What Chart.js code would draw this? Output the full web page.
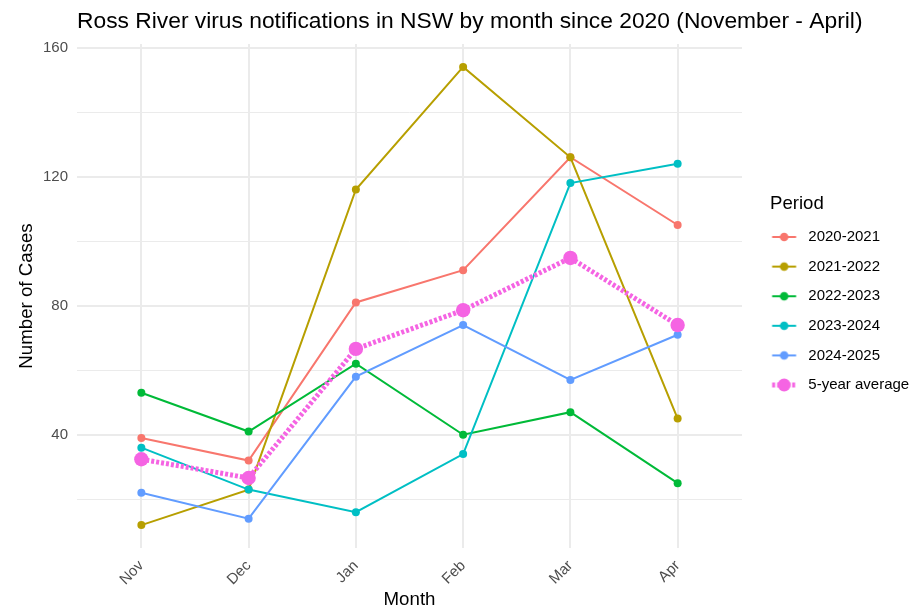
<!DOCTYPE html>
<html>
<head>
<meta charset="utf-8">
<script src="https://cdn.jsdelivr.net/npm/chart.js@4"></script>
<style>
  html, body { margin: 0; background: #fff; }
</style>
</head>
<body>
<canvas id="chart" width="914" height="611"></canvas>
<script>
// ===== data =====
const TITLE = 'Ross River virus notifications in NSW by month since 2020 (November - April)';
const LEGEND_TITLE = 'Period';
const MONTHS = ['Nov', 'Dec', 'Jan', 'Feb', 'Mar', 'Apr'];
const PERIODS = ['2020-2021', '2021-2022', '2022-2023', '2023-2024', '2024-2025'];
const CASES_2020_21 = [39, 32, 81, 91, 126, 105];
const CASES_2021_22 = [12, 23, 116, 154, 126, 45];
const CASES_2022_23 = [53, 41, 62, 40, 47, 25];
const CASES_2023_24 = [36, 23, 16, 34, 118, 124];
const CASES_2024_25 = [22, 14, 58, 74, 57, 71];
const AVG_LABEL = '5-year average';
const AVG_5YR = [32.4, 26.6, 66.6, 78.6, 94.8, 74];
const Y_TICKS = [40, 80, 120, 160];
const Y_MINOR = [20, 60, 100, 140];

const SERIES = [CASES_2020_21, CASES_2021_22, CASES_2022_23, CASES_2023_24, CASES_2024_25];
const COLORS = ['#F8766D', '#B79F00', '#00BA38', '#00BFC4', '#619CFF'];
const AVG_COLOR = '#F564E3';

const FONT = '"Liberation Sans", Arial, sans-serif';
Chart.defaults.font.family = FONT;

const toPoints = vals => vals.map((v, i) => ({ x: i, y: v }));

// little legend key: line with a dot in the middle
function legendKey(color, isAvg) {
  const c = document.createElement('canvas');
  c.width = 44; c.height = 18;
  const g = c.getContext('2d');
  g.strokeStyle = color;
  g.lineWidth = isAvg ? 5 : 2;
  if (isAvg) g.setLineDash([3, 2]);
  g.beginPath(); g.moveTo(15.4, 9); g.lineTo(39.4, 9); g.stroke();
  g.setLineDash([]);
  g.fillStyle = color;
  g.beginPath(); g.arc(27.4, 9, isAvg ? 6.5 : 4.3, 0, Math.PI * 2); g.fill();
  return c;
}

const datasets = SERIES.map((vals, i) => ({
  label: PERIODS[i],
  data: toPoints(vals),
  borderColor: COLORS[i],
  backgroundColor: COLORS[i],
  borderWidth: 2,
  pointRadius: 4,
  pointBorderWidth: 0,
  order: 10 - i,
  key: legendKey(COLORS[i], false)
}));
datasets.push({
  label: AVG_LABEL,
  data: toPoints(AVG_5YR),
  borderColor: AVG_COLOR,
  backgroundColor: AVG_COLOR,
  borderWidth: 5,
  borderDash: [3, 2],
  pointRadius: 7.2,
  pointBorderWidth: 0,
  order: 0,
  key: legendKey(AVG_COLOR, true)
});

// plot title (left aligned to the panel) and legend title
const extraText = {
  id: 'extraText',
  afterDraw(chart) {
    const ctx = chart.ctx;
    ctx.save();
    ctx.fillStyle = '#000';
    ctx.textBaseline = 'middle';
    ctx.font = '22.8px ' + FONT;
    ctx.fillText(TITLE, chart.chartArea.left, 22);
    ctx.font = '18.6px ' + FONT;
    ctx.fillText(LEGEND_TITLE, 770, 204);
    ctx.restore();
  }
};

// fixed legend column width
const legendWidth = {
  id: 'legendWidth',
  afterInit(chart) {
    const lg = chart.legend;
    const fit = lg.fit.bind(lg);
    lg.fit = function () { fit(); this.width = 172; };
  }
};

new Chart(document.getElementById('chart'), {
  type: 'line',
  data: { datasets },
  plugins: [extraText, legendWidth],
  options: {
    responsive: false,
    animation: false,
    layout: { padding: { top: 44, right: 0, bottom: 0, left: 0 } },
    plugins: {
      tooltip: { enabled: false },
      legend: {
        position: 'right',
        align: 'start',
        // blank title only reserves the vertical space above the keys
        title: {
          display: true, text: ' ',
          font: { size: 15 }, padding: { top: 152.9, bottom: 0 }
        },
        labels: {
          usePointStyle: true,
          pointStyleWidth: 44.2,
          padding: 14.6,
          color: '#000',
          font: { size: 15 },
          generateLabels: chart => chart.data.datasets.map((ds, i) => ({
            text: ds.label,
            pointStyle: ds.key,
            fillStyle: ds.backgroundColor,
            strokeStyle: ds.borderColor,
            lineWidth: 0,
            fontColor: '#000',
            hidden: false,
            datasetIndex: i
          }))
        }
      }
    },
    scales: {
      x: {
        type: 'linear',
        min: -0.6, max: 5.6,
        afterBuildTicks: s => { s.ticks = MONTHS.map((m, i) => ({ value: i })); },
        afterFit: s => { s.height = 63; },
        ticks: {
          callback: v => MONTHS[v],
          autoSkip: false,
          minRotation: 45, maxRotation: 45,
          color: '#4d4d4d', font: { size: 15 }, padding: 9
        },
        grid: { color: '#ebebeb', lineWidth: 2, drawTicks: false },
        border: { display: false },
        title: {
          display: true, text: 'Month', color: '#000',
          font: { size: 18.7 }, padding: { top: 0, bottom: 0 }
        }
      },
      y: {
        min: 4.9, max: 161.1,
        afterBuildTicks: s => {
          s.ticks = [...Y_MINOR, ...Y_TICKS].sort((a, b) => a - b).map(v => ({ value: v }));
        },
        afterFit: s => { s.width = 77; },
        ticks: {
          callback: v => Y_TICKS.includes(v) ? String(v) : '',
          color: '#4d4d4d', font: { size: 15 }, padding: 9
        },
        grid: {
          color: '#ebebeb',
          lineWidth: c => Y_TICKS.includes(c.tick && c.tick.value) ? 2 : 1,
          drawTicks: false
        },
        border: { display: false },
        title: {
          display: true, text: 'Number of Cases', color: '#000',
          font: { size: 18.7 }, padding: { top: 15.5, bottom: 0 }
        }
      }
    }
  }
});
</script>
</body>
</html>
